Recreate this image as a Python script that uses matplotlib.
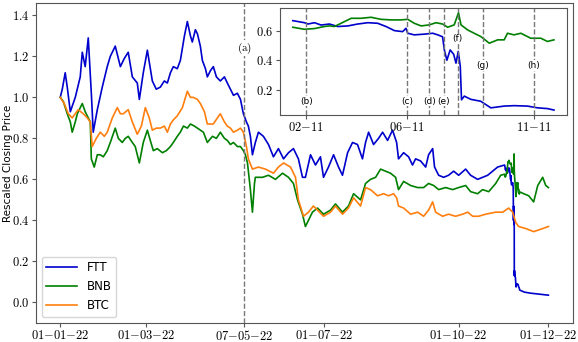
import pandas as pd
import matplotlib
matplotlib.use("Agg")
import matplotlib.pyplot as plt
import matplotlib.dates as mdates
from matplotlib.ticker import FuncFormatter

plt.rcParams['mathtext.fontset'] = 'cm'

# main series: days since 2022-01-01 (before November)
ftt_days = [0, 1.4, 3.4, 4.8, 6.9, 10.3, 13.7, 15.1, 17.1, 19.2, 21.3, 22.6, 25.4, 28.8, 32.2, 34.3,
            37.7, 41.2, 43.9, 46.6, 49.4, 52.8, 54.2, 56.9, 59.7, 63.1, 65.8, 68.6, 71.3, 73.4, 75.5,
            77.5, 80.2, 82.3, 85.1, 87.1, 89.2, 90.5, 92.6, 94.0, 96.0, 97.4, 99.5, 100.8, 102.9,
            104.9, 107.0, 109.7, 112.5, 114.5, 116.6, 118.7, 121.4, 123.5, 125.5, 127.6, 128.9,
            130.3, 131.7, 133.7, 135.8, 139.2, 142.7, 146.1, 149.5, 153.0, 156.4, 159.8, 163.2,
            166.0, 168.0, 171.5, 174.9, 178.3, 180.4, 183.8, 187.3, 190.7, 193.4, 196.9, 200.3,
            203.7, 207.1, 209.2, 211.3, 214.7, 218.1, 220.9, 224.3, 227.7, 230.5, 231.8, 235.3,
            238.7, 241.4, 243.5, 246.9, 250.4, 252.4, 255.2, 256.5, 259.3, 262.7, 266.1, 269.6,
            273.0, 277.8, 281.2, 286.0, 289.4, 292.9, 296.3, 299.7]
ftt_vals = [1.00, 1.04, 1.12, 1.05, 0.93, 1.00, 1.10, 1.22, 1.15, 1.29, 1.02, 0.83, 0.94, 1.05, 1.15, 1.20,
            1.25, 1.15, 1.19, 1.22, 1.10, 1.07, 0.99, 1.12, 1.23, 1.08, 1.04, 1.05, 1.08, 1.07, 1.12,
            1.15, 1.14, 1.18, 1.30, 1.37, 1.30, 1.27, 1.33, 1.31, 1.25, 1.18, 1.14, 1.10, 1.13,
            1.15, 1.10, 1.08, 1.10, 1.07, 1.04, 1.01, 1.02, 0.99, 0.92, 0.88, 0.86,
            0.81, 0.72, 0.78, 0.83, 0.81, 0.77, 0.71, 0.75, 0.70, 0.73, 0.75, 0.70,
            0.61, 0.61, 0.72, 0.67, 0.71, 0.61, 0.66, 0.72, 0.66, 0.62, 0.73, 0.78,
            0.77, 0.70, 0.78, 0.83, 0.77, 0.80, 0.83, 0.79, 0.84, 0.78, 0.70, 0.73,
            0.71, 0.67, 0.70, 0.69, 0.66, 0.72, 0.75, 0.66, 0.62, 0.61, 0.62, 0.64,
            0.62, 0.65, 0.62, 0.60, 0.61, 0.62, 0.64, 0.66]

bnb_days = [0, 2.1, 4.8, 6.9, 8.2, 10.3, 11.7, 15.1, 17.1, 18.5, 20.6, 21.3, 23.3, 25.4, 27.4, 29.5,
            32.2, 34.3, 37.7, 39.8, 42.5, 44.6, 46.6, 49.4, 51.4, 54.2, 56.9, 59.7, 61.7, 63.8, 66.5,
            70.0, 72.7, 75.5, 77.5, 80.2, 82.3, 84.4, 87.1, 89.2, 91.9, 94.0, 96.0, 98.1, 100.8,
            104.3, 107.0, 109.7, 112.5, 114.5, 116.6, 118.7, 121.4, 123.5, 125.5, 126.9, 128.3,
            130.3, 131.7, 133.1, 133.7, 138.6, 142.7, 147.5, 152.3, 156.4, 159.8, 162.6, 166.0,
            168.0, 169.4, 172.8, 176.3, 180.4, 185.2, 188.6, 193.4, 197.5, 201.0, 205.8, 209.2,
            212.6, 216.1, 219.5, 222.9, 226.3, 229.8, 231.8, 235.3, 240.1, 244.9, 249.0, 252.4,
            255.9, 259.3, 264.1, 268.9, 273.0, 277.8, 281.2, 286.0, 289.4, 293.6, 298.4, 301.8]
bnb_vals = [1.00, 0.98, 0.92, 0.88, 0.83, 0.88, 0.92, 0.97, 0.93, 0.91, 0.88, 0.70, 0.66, 0.72, 0.72, 0.71,
            0.74, 0.78, 0.85, 0.80, 0.78, 0.80, 0.81, 0.78, 0.76, 0.68, 0.78, 0.84, 0.79, 0.74, 0.75,
            0.73, 0.74, 0.76, 0.78, 0.81, 0.83, 0.86, 0.85, 0.87, 0.86, 0.85, 0.84, 0.83, 0.78,
            0.81, 0.80, 0.83, 0.80, 0.79, 0.77, 0.78, 0.76, 0.76, 0.74, 0.72, 0.68,
            0.55, 0.44, 0.58, 0.61, 0.61, 0.62, 0.60, 0.63, 0.61, 0.58, 0.50, 0.43,
            0.37, 0.39, 0.44, 0.46, 0.43, 0.45, 0.48, 0.44, 0.47, 0.53, 0.50, 0.58,
            0.60, 0.61, 0.65, 0.64, 0.63, 0.61, 0.55, 0.59, 0.57, 0.56, 0.56, 0.58,
            0.57, 0.55, 0.56, 0.55, 0.56, 0.57, 0.54, 0.53, 0.55, 0.54, 0.58, 0.62]

btc_days = [0, 2.7, 5.5, 8.2, 12.3, 15.8, 18.5, 20.6, 21.9, 24.7, 27.4, 30.2, 32.2, 35.7, 39.1, 41.2,
            43.2, 46.6, 49.4, 52.8, 55.6, 58.3, 61.0, 63.1, 65.8, 68.6, 71.3, 73.4, 75.5, 77.5, 80.2,
            83.7, 87.1, 89.2, 91.2, 94.0, 96.0, 98.8, 100.8, 102.9, 104.9, 107.7, 109.7, 112.5,
            114.5, 116.6, 118.7, 121.4, 123.5, 125.5, 127.6, 128.9, 131.7, 135.8, 140.6, 146.1,
            149.5, 153.0, 157.8, 161.2, 163.2, 166.7, 170.1, 173.5, 176.3, 180.4, 185.2, 188.6,
            193.4, 197.5, 201.0, 205.8, 209.2, 212.6, 217.4, 221.5, 225.0, 228.4, 230.5, 231.8,
            235.3, 240.1, 244.9, 249.0, 252.4, 255.2, 257.2, 262.0, 266.1, 270.9, 275.7, 279.2,
            282.6, 286.7, 291.5, 298.4, 303.2, 307.3, 310.0, 312.1, 314.1, 319.0, 324.4, 330.6, 334.5]
btc_vals = [1.00, 0.97, 0.92, 0.90, 0.94, 0.92, 0.90, 0.88, 0.76, 0.80, 0.83, 0.81, 0.83, 0.90, 0.95, 0.92,
            0.92, 0.94, 0.88, 0.82, 0.86, 0.95, 0.90, 0.84, 0.85, 0.85, 0.86, 0.83, 0.87, 0.89, 0.91,
            0.95, 1.03, 1.00, 1.00, 0.99, 0.97, 0.93, 0.87, 0.87, 0.87, 0.90, 0.92, 0.88,
            0.86, 0.85, 0.83, 0.84, 0.85, 0.83, 0.76, 0.70, 0.65, 0.66, 0.65, 0.63,
            0.66, 0.68, 0.66, 0.61, 0.50, 0.42, 0.44, 0.47, 0.45, 0.42, 0.44, 0.47,
            0.43, 0.46, 0.51, 0.47, 0.56, 0.55, 0.52, 0.53, 0.52, 0.53, 0.51, 0.47,
            0.46, 0.43, 0.44, 0.42, 0.45, 0.49, 0.44, 0.42, 0.43, 0.42, 0.43, 0.44,
            0.42, 0.42, 0.43, 0.44, 0.44, 0.46, 0.44, 0.39, 0.37, 0.36, 0.345, 0.36, 0.37]

# November window (day of month), shown in the inset
nov_ftt_days = [1.47, 1.93, 2.07, 2.33, 2.59, 2.92, 3.25, 3.65, 4.04, 4.44, 4.83, 5.16, 5.49, 5.82,
                5.95, 6.02, 6.28, 6.68, 7.01, 7.21, 7.40, 7.47, 7.57, 7.70, 7.84, 7.93, 8.02, 8.10,
                8.15, 8.26, 8.52, 8.91, 9.31, 9.84, 10.23, 10.76, 11.16, 11.55, 11.81]
nov_ftt_vals = [0.67, 0.656, 0.647, 0.656, 0.64, 0.647, 0.63, 0.634, 0.647, 0.656, 0.652, 0.63, 0.602,
                0.595, 0.618, 0.584, 0.573, 0.578, 0.584, 0.573, 0.56, 0.47, 0.40, 0.47, 0.44, 0.38,
                0.46, 0.36, 0.13, 0.155, 0.133, 0.12, 0.075, 0.087, 0.09, 0.087, 0.075, 0.07, 0.06]
nov_bnb_days = [1.47, 1.93, 2.33, 2.72, 2.92, 3.12, 3.38, 3.78, 4.17, 4.57, 4.96, 5.36, 5.75, 6.02,
                6.28, 6.55, 6.87, 7.14, 7.40, 7.60, 7.86, 8.03, 8.13, 8.39, 8.65, 8.92, 9.25, 9.58,
                9.84, 9.97, 10.23, 10.50, 10.89, 11.29, 11.55, 11.81]
nov_bnb_vals = [0.625, 0.611, 0.616, 0.63, 0.634, 0.63, 0.652, 0.686, 0.686, 0.693, 0.679, 0.675,
                0.675, 0.679, 0.652, 0.634, 0.641, 0.656, 0.647, 0.625, 0.641, 0.724, 0.641, 0.607,
                0.584, 0.561, 0.516, 0.539, 0.539, 0.584, 0.573, 0.584, 0.55, 0.55, 0.528, 0.539]

# after the November window (days since 2022-01-01)
ftt_tail_days = [318.0, 322.0, 328.0, 334.5]
ftt_tail_vals = [0.05, 0.045, 0.04, 0.035]
bnb_tail_days = [317.6, 321.0, 324.4, 327.2, 330.6, 332.7, 334.5]
bnb_tail_vals = [0.53, 0.52, 0.49, 0.57, 0.61, 0.57, 0.56]

events_main = [("2022-05-07", "(a)")]
events_inset = [("2022-11-02 00:00", "(b)", 0.12), ("2022-11-06 00:00", "(c)", 0.12),
                ("2022-11-06 21:00", "(d)", 0.12), ("2022-11-07 11:00", "(e)", 0.12),
                ("2022-11-08 00:00", "(f)", 0.545), ("2022-11-09 00:00", "(g)", 0.365),
                ("2022-11-11 00:00", "(h)", 0.365)]

t0 = pd.Timestamp("2022-01-01"); tnov = pd.Timestamp("2022-10-31")
def d(days, base): return base + pd.to_timedelta(days, unit="D")

ftt_t = list(d(ftt_days, t0)) + list(d(nov_ftt_days, tnov)) + list(d(ftt_tail_days, t0))
ftt_v = ftt_vals + nov_ftt_vals + ftt_tail_vals
bnb_t = list(d(bnb_days, t0)) + list(d(nov_bnb_days, tnov)) + list(d(bnb_tail_days, t0))
bnb_v = bnb_vals + nov_bnb_vals + bnb_tail_vals
btc_t = d(btc_days, t0)

C_FTT, C_BNB, C_BTC = "#0000cc", "#008000", "#ff7f0e"
SPINE = "#555555"
num = FuncFormatter(lambda v, p: f"${v:.1f}$")

def style(a):
    for s in a.spines.values():
        s.set_color(SPINE)
    a.tick_params(labelsize=9, length=3, pad=1.5, color=SPINE)

fig = plt.figure(figsize=(5.78, 3.42), dpi=100)
ax = fig.add_axes([0.062, 0.056, 0.929, 0.935])
ax.plot(ftt_t, ftt_v, color=C_FTT, lw=1.2, label="FTT")
ax.plot(bnb_t, bnb_v, color=C_BNB, lw=1.2, label="BNB")
ax.plot(btc_t, btc_vals, color=C_BTC, lw=1.2, label="BTC")
for dt, lab in events_main:
    ax.axvline(pd.Timestamp(dt), color="#777777", ls="--", lw=1.0)
    ax.text(pd.Timestamp(dt), 1.24, r"$\mathrm{" + lab + "}$", ha="center", va="center", fontsize=8,
            bbox=dict(facecolor="white", edgecolor="none", pad=0.5))
ax.set_ylim(-0.1, 1.46)
ax.set_yticks([0.0, 0.2, 0.4, 0.6, 0.8, 1.0, 1.2, 1.4])
ax.yaxis.set_major_formatter(num)
ax.set_xticks(pd.to_datetime(["2022-01-01", "2022-03-01", "2022-05-07", "2022-07-01", "2022-10-01", "2022-12-01"]))
ax.xaxis.set_major_formatter(mdates.DateFormatter("$%d{-}%m{-}%y$"))
style(ax)
ax.set_ylabel("Rescaled Closing Price", fontsize=7.5)
ax.yaxis.set_label_coords(-0.042, 0.5)
ax.legend(loc="lower left", fontsize=8.5, handlelength=2.6)

ins = fig.add_axes([0.484, 0.664, 0.497, 0.313])
ins.plot(d(nov_ftt_days, tnov), nov_ftt_vals, color=C_FTT, lw=1.2)
ins.plot(d(nov_bnb_days, tnov), nov_bnb_vals, color=C_BNB, lw=1.2)
for dt, lab, yy in events_inset:
    ins.axvline(pd.Timestamp(dt), color="#777777", ls="--", lw=1.0)
    ins.text(pd.Timestamp(dt), yy, lab, ha="center", va="center", fontsize=6.5,
             bbox=dict(facecolor="white", edgecolor="none", pad=0.5))
ins.set_yticks([0.2, 0.4, 0.6])
ins.yaxis.set_major_formatter(num)
ins.set_xticks(pd.to_datetime(["2022-11-02", "2022-11-06", "2022-11-11"]))
ins.xaxis.set_major_formatter(mdates.DateFormatter("$%d{-}%m$"))
style(ins)

fig.savefig("out.png", dpi=100)
